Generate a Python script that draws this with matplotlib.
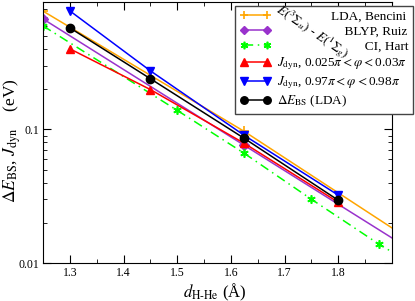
import matplotlib
matplotlib.use("Agg")
import matplotlib.pyplot as plt

plt.rcParams['font.family'] = ['Liberation Serif', 'DejaVu Serif']
plt.rcParams['mathtext.fontset'] = 'stix'

# distances (Angstrom) and energies (eV)
d_lda = [1.25, 1.625, 1.9]
e_lda = [0.77, 0.0966, 0.0183]
d_blyp = [1.25, 1.625, 1.9]
e_blyp = [0.673, 0.076, 0.0154]
d_ci = [1.25, 1.5, 1.625, 1.75, 1.875, 1.9]
e_ci = [0.597, 0.139, 0.0662, 0.030, 0.0139, 0.0121]
d_calc = [1.3, 1.45, 1.625, 1.8]
j_low = [0.402, 0.199, 0.0787, 0.0285]
j_high = [0.773, 0.275, 0.0902, 0.0322]
de_bs = [0.577, 0.240, 0.0857, 0.0295]

fig = plt.figure(figsize=(4.15, 3.01), dpi=100)
ax = fig.add_axes([0.1036, 0.1262, 0.841, 0.867])

lw = 1.1
ax.plot(d_lda, e_lda, color='#ffa500', lw=lw, marker='+', ms=7, mew=1.2,
        markevery=[0, 1], label='LDA, Bencini')
ax.plot(d_blyp, e_blyp, color='#9932cc', lw=lw, marker='D', ms=5,
        markevery=[0, 1], label='BLYP, Ruiz')
ax.plot(d_ci, e_ci, color='#00ff00', lw=lw, ls=(0, (6, 3, 1, 3)), marker=(6, 2, 0),
        ms=6, mew=1.2, markevery=[0, 1, 2, 3, 4], label='CI, Hart')
ax.plot(d_calc, j_low, color='red', lw=lw, marker='^', ms=6,
        label=r'$J_{\rm dyn}$, 0.025$\pi$$<\varphi<$0.03$\pi$')
ax.plot(d_calc, j_high, color='blue', lw=lw, marker='v', ms=6,
        label=r'$J_{\rm dyn}$, 0.97$\pi$$<\varphi<$0.98$\pi$')
ax.plot(d_calc, de_bs, color='black', lw=lw, marker='o', ms=6,
        label=r'$\Delta E_{\rm BS}$ (LDA)')

ax.set_yscale('log')
ax.set_xlim(1.25, 1.9)
ax.set_ylim(0.01, 0.9)
ax.set_xticks([1.3, 1.4, 1.5, 1.6, 1.7, 1.8])
ax.set_xticks([1.35, 1.45, 1.55, 1.65, 1.75, 1.85], minor=True)
ax.set_yticks([0.01, 0.1])
ax.set_yticklabels(['0.01', '0.1'])
ax.tick_params(which='both', direction='in', top=True, right=True, labelsize=8.5, pad=3)
ax.tick_params(which='major', length=6)
ax.tick_params(which='minor', length=3)
ax.set_xlabel(r'$d_{\rm H\text{-}He}$ (Å)', fontsize=12)
ax.set_ylabel(r'$\Delta E_{\rm BS}$, $J_{\rm dyn}$    (eV)', fontsize=12.5)
ax.xaxis.set_label_coords(0.493, -0.07)
ax.yaxis.set_label_coords(-0.058, 0.47)

leg = ax.legend(loc='upper right', bbox_to_anchor=(413 / 415, 1 - 6 / 301),
                bbox_transform=fig.transFigure, numpoints=2, handlelength=2.35,
                fontsize=9.5, fancybox=False, framealpha=1, edgecolor='#444444',
                borderaxespad=0, labelspacing=0.2, handletextpad=0.45,
                borderpad=0.35, markerscale=0.9)
leg.get_frame().set_linewidth(1.0)

# right-align the first three labels like the original: pad with spaces
fig.canvas.draw()
r = fig.canvas.get_renderer()
texts = leg.get_texts()
widest = max(t.get_window_extent(r).width for t in texts)
probe = texts[0]
base = probe.get_text()
probe.set_text('x' + ' ' * 20 + 'x')
w20 = probe.get_window_extent(r).width
probe.set_text('xx')
space_w = (w20 - probe.get_window_extent(r).width) / 20
probe.set_text(base)
for t in texts[:3]:
    n = int(round((widest - t.get_window_extent(r).width) / space_w))
    t.set_text(' ' * n + t.get_text())

fig.text(312 / 415, 1 - 32 / 301, r'$E(^3\Sigma_u)$ - $E(^1\Sigma_g)$',
         rotation=-34, ha='center', va='center', fontsize=9.5, zorder=10)

fig.savefig('out.png', dpi=100)
